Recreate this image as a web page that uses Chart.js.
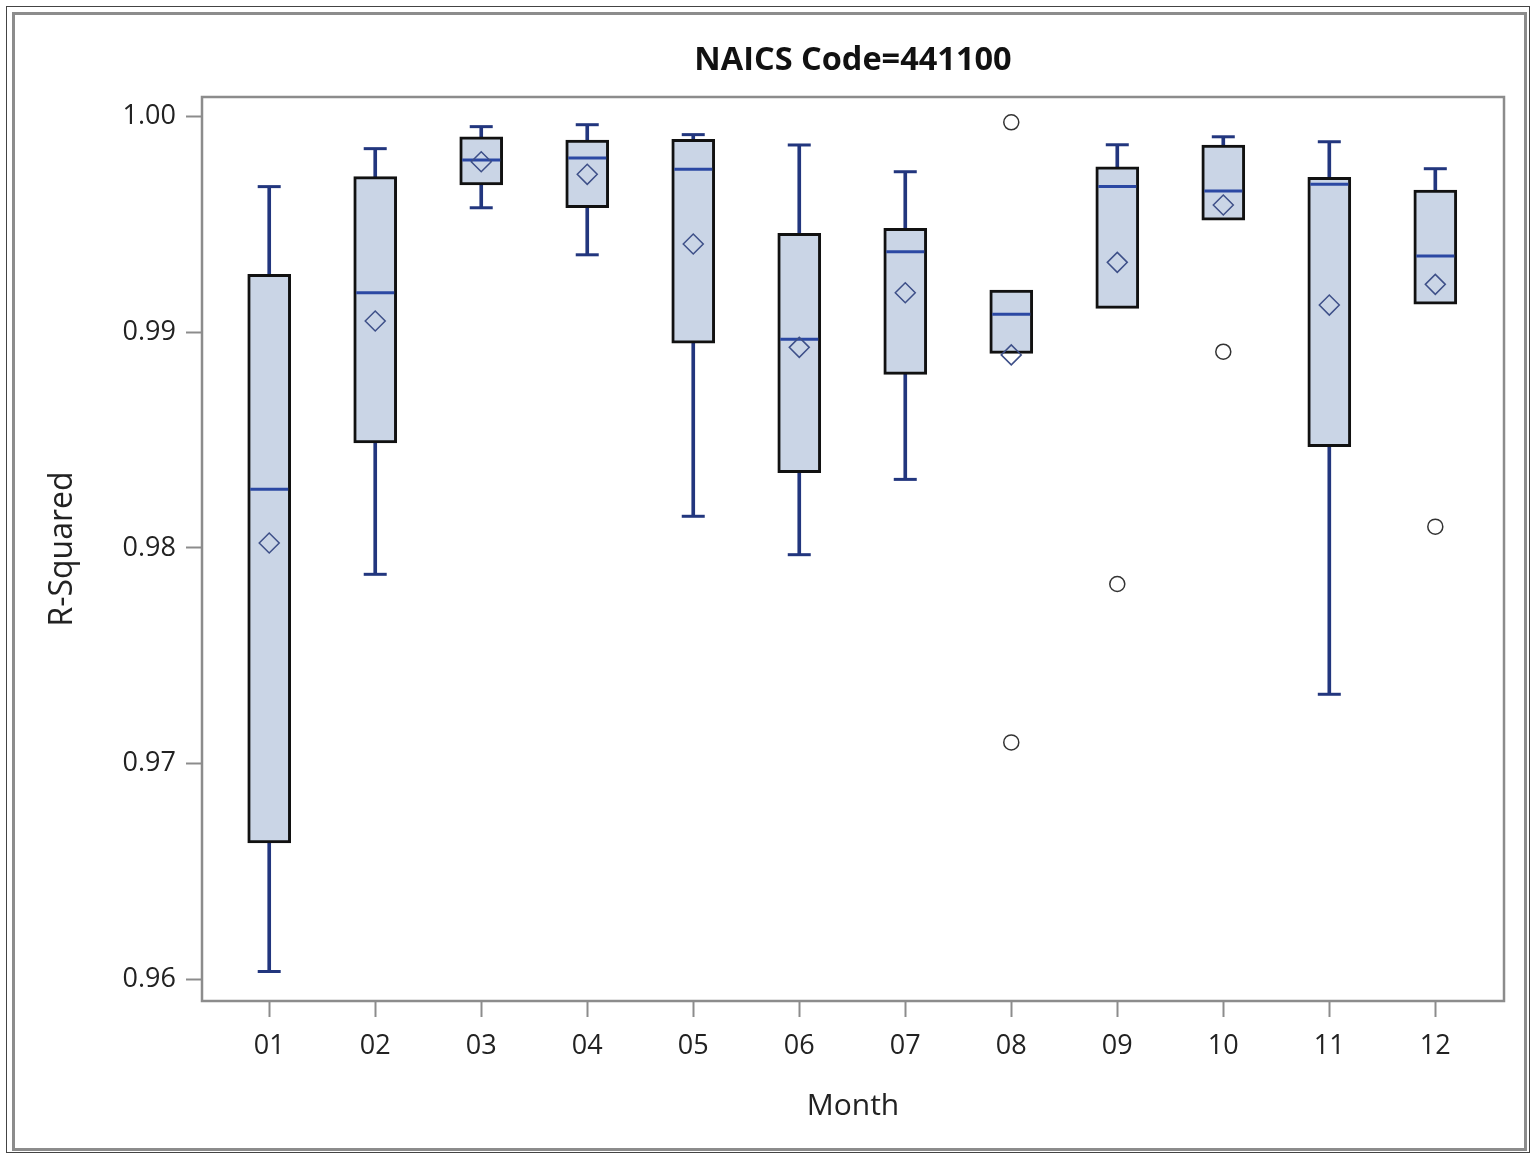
<!DOCTYPE html>
<html>
<head>
<meta charset="utf-8">
<script src="https://cdn.jsdelivr.net/npm/chart.js@4.4.1/dist/chart.umd.min.js"></script>
<style>
  html, body { margin: 0; padding: 0; background: #fff; }
  #page { position: relative; width: 1536px; height: 1155px; overflow: hidden; }
  #edge { position: absolute; left: 6px; top: 6px; width: 1524px; height: 1147px; border: 1px solid #444; box-sizing: border-box; }
  #frame { position: absolute; left: 12px; top: 12px; width: 1515px; height: 1139px; border: 3px solid #8c8c8c; box-sizing: border-box; }
  #wrap { position: absolute; left: 0; top: 0; width: 1536px; height: 1155px; }
</style>
</head>
<body>
<div id="page">
  <div id="edge"></div>
  <div id="frame"></div>
  <div id="wrap"><canvas id="box_chart"></canvas></div>
</div>
<script>
// R-Squared by month
var months = ['01', '02', '03', '04', '05', '06', '07', '08', '09', '10', '11', '12'];
var whisker_hi = [0.99675, 0.99851, 0.99953, 0.99962, 0.99916, 0.99868, 0.99744, 0.99196, 0.99869, 0.99906, 0.99883, 0.99758];
var q3 = [0.99269, 0.99721, 0.99906, 0.99891, 0.99894, 0.99459, 0.99482, 0.99196, 0.99767, 0.99868, 0.99718, 0.99659];
var median = [0.98272, 0.99183, 0.99798, 0.99808, 0.99755, 0.98967, 0.99373, 0.99083, 0.99675, 0.99655, 0.99686, 0.99353];
var mean = [0.98023, 0.99052, 0.99790, 0.99732, 0.99409, 0.98930, 0.99183, 0.98895, 0.99324, 0.99590, 0.99126, 0.99222];
var q1 = [0.96633, 0.98487, 0.99683, 0.99577, 0.98949, 0.98349, 0.98805, 0.98902, 0.99111, 0.99520, 0.98470, 0.99130];
var whisker_lo = [0.96037, 0.97878, 0.99577, 0.99359, 0.98147, 0.97969, 0.98318, 0.98902, 0.99111, 0.99520, 0.97322, 0.99130];

// outliers: month index (1-based) and value
var outlier_month = [8, 8, 9, 10, 12];
var outlier_value = [0.99973, 0.97099, 0.97833, 0.98910, 0.98099];

var y_ticks = [0.96, 0.97, 0.98, 0.99, 1.00];

var navy = '#22367e';
var median_blue = '#2b48a3';

// build dataset points
var boxes = months.map(function(m, i) {
  return { x: i + 1, y: [q1[i], q3[i]] };
});

var whiskers = [];
var caps = [];
months.forEach(function(m, i) {
  if (whisker_hi[i] > q3[i]) {
    whiskers.push({ x: i + 1, y: [q3[i], whisker_hi[i]] });
    caps.push({ x: i + 1, y: whisker_hi[i] });
  }
  if (whisker_lo[i] < q1[i]) {
    whiskers.push({ x: i + 1, y: [whisker_lo[i], q1[i]] });
    caps.push({ x: i + 1, y: whisker_lo[i] });
  }
});

var medians = months.map(function(m, i) { return { x: i + 1, y: median[i] }; });
var means = months.map(function(m, i) { return { x: i + 1, y: mean[i] }; });
var outliers = outlier_month.map(function(m, i) { return { x: m, y: outlier_value[i] }; });

// gray frame round the plot area
var plotFrame = {
  id: 'plotFrame',
  afterDatasetsDraw: function(chart) {
    var a = chart.chartArea;
    var ctx = chart.ctx;
    ctx.save();
    ctx.strokeStyle = '#8c8c8c';
    ctx.lineWidth = 2.5;
    ctx.strokeRect(a.left, a.top, a.right - a.left, a.bottom - a.top);
    ctx.restore();
  }
};

Chart.defaults.font.family = "'Open Sans', sans-serif";
Chart.defaults.color = '#222';

var chart = new Chart('box_chart', {
  type: 'bar',
  data: {
    datasets: [
      {
        label: 'whiskers',
        data: whiskers,
        backgroundColor: navy,
        borderWidth: 0,
        barThickness: 3,
        grouped: false,
        order: 6
      },
      {
        label: 'box',
        data: boxes,
        backgroundColor: '#cad5e6',
        borderColor: '#111',
        borderWidth: 3,
        borderSkipped: false,
        barThickness: 43,
        grouped: false,
        order: 5
      },
      {
        type: 'scatter',
        label: 'caps',
        data: caps,
        pointStyle: 'line',
        radius: 11.5,
        borderColor: navy,
        borderWidth: 3,
        order: 4
      },
      {
        type: 'scatter',
        label: 'median',
        data: medians,
        pointStyle: 'line',
        radius: 19,
        borderColor: median_blue,
        borderWidth: 3,
        order: 3
      },
      {
        type: 'scatter',
        label: 'mean',
        data: means,
        pointStyle: 'rectRot',
        radius: 10,
        backgroundColor: 'rgba(0,0,0,0)',
        borderColor: '#3d4f88',
        borderWidth: 1.5,
        order: 2
      },
      {
        type: 'scatter',
        label: 'outliers',
        data: outliers,
        pointStyle: 'circle',
        radius: 7.5,
        backgroundColor: 'rgba(0,0,0,0)',
        borderColor: '#333',
        borderWidth: 1.5,
        order: 1
      }
    ]
  },
  options: {
    responsive: true,
    maintainAspectRatio: false,
    animation: false,
    layout: {
      padding: { top: 0, right: 32, bottom: 0, left: 0 }
    },
    plugins: {
      legend: { display: false },
      tooltip: { enabled: false },
      title: {
        display: true,
        fullSize: false,
        text: 'NAICS Code=441100',
        color: '#111',
        font: { size: 32.5, weight: 'bold' },
        padding: { top: 41, bottom: 17 }
      }
    },
    scales: {
      x: {
        type: 'linear',
        offset: false,
        min: 0.366,
        max: 12.648,
        afterBuildTicks: function(scale) {
          scale.ticks = months.map(function(m, i) { return { value: i + 1 }; });
        },
        afterFit: function(scale) { scale.height = 154; },
        ticks: {
          autoSkip: false,
          maxRotation: 0,
          padding: 13,
          font: { size: 27 },
          color: '#222',
          callback: function(value, index) { return months[index]; }
        },
        grid: {
          display: true,
          offset: false,
          drawOnChartArea: false,
          drawTicks: true,
          tickLength: 16,
          tickWidth: 2,
          color: '#8c8c8c'
        },
        border: { display: false },
        title: {
          display: true,
          text: 'Month',
          color: '#222',
          font: { size: 30 },
          padding: { top: 0, bottom: 31 }
        }
      },
      y: {
        min: 0.959003,
        max: 1.000904,
        afterBuildTicks: function(scale) {
          scale.ticks = y_ticks.map(function(v) { return { value: v }; });
        },
        afterFit: function(scale) { scale.width = 202; },
        ticks: {
          padding: 10,
          font: { size: 27 },
          color: '#222',
          callback: function(value) { return value.toFixed(2); }
        },
        grid: {
          display: true,
          drawOnChartArea: false,
          drawTicks: true,
          tickLength: 16,
          tickWidth: 2,
          color: '#8c8c8c'
        },
        border: { display: false },
        title: {
          display: true,
          text: 'R-Squared',
          color: '#222',
          font: { size: 32 },
          padding: { top: 44, bottom: 0 }
        }
      }
    }
  },
  plugins: [plotFrame]
});
</script>
</body>
</html>
